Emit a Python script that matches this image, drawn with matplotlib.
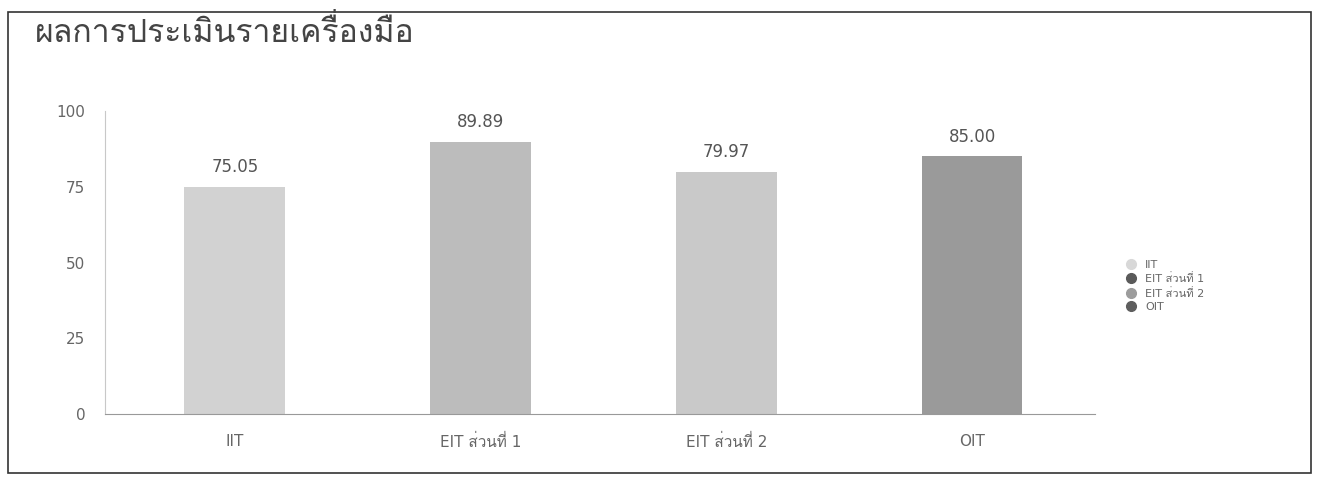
import matplotlib
matplotlib.use('Agg')
import matplotlib.pyplot as plt
from matplotlib import font_manager
from matplotlib.lines import Line2D
from matplotlib.patches import Rectangle

categories = ['IIT', 'EIT ส่วนที่ 1', 'EIT ส่วนที่ 2', 'OIT']
scores = [75.05, 89.89, 79.97, 85.00]
bar_colors = ['#d2d2d2', '#bcbcbc', '#c9c9c9', '#9a9a9a']
legend_colors = ['#d8d8d8', '#5a5a5a', '#9c9c9c', '#5e5e5e']
yticks = [0, 25, 50, 75, 100]
title = 'ผลการประเมินรายเครื่องมือ'

# find something that can draw Thai, DejaVu first for the latin bits
thai_fonts = []
try:
    from fontTools.ttLib import TTFont
    for f in font_manager.fontManager.ttflist:
        try:
            tt = TTFont(f.fname, fontNumber=0, lazy=True)
            if 0x0E2A in tt.getBestCmap() and f.name not in thai_fonts:
                thai_fonts.append(f.name)
        except Exception:
            pass
except Exception:
    pass
plt.rcParams['font.family'] = ['DejaVu Sans'] + thai_fonts

fig = plt.figure(figsize=(13.24, 4.93), dpi=100)
ax = fig.add_axes([0.079, 0.16, 0.748, 0.615])

x = range(len(categories))
ax.bar(x, scores, width=0.41, color=bar_colors)
for xi, v in zip(x, scores):
    ax.text(xi, v + 3.5, f'{v:.2f}', ha='center', va='bottom', fontsize=12, color='#555555')

ax.set_xlim(-0.53, 3.5)
ax.set_ylim(0, 100)
ax.set_yticks(yticks)
ax.set_xticks(list(x))
ax.set_xticklabels(categories)
ax.tick_params(axis='both', length=0, labelsize=11, colors='#666666')
ax.tick_params(axis='y', pad=14)
ax.tick_params(axis='x', pad=14)
for s in ['top', 'right']:
    ax.spines[s].set_visible(False)
ax.spines['left'].set_color('#c8c8c8')
ax.spines['bottom'].set_color('#999999')

handles = [Line2D([], [], marker='o', linestyle='', markersize=7, color=c) for c in legend_colors]
fig.legend(handles, categories, loc='center left', bbox_to_anchor=(0.838, 0.42),
           frameon=False, fontsize=8, labelcolor='#666666', handletextpad=0.3, labelspacing=0.3)

fig.text(0.026, 0.935, title, fontsize=23, color='#444444', va='center')
fig.patches.append(Rectangle((0.006, 0.04), 0.984, 0.935, transform=fig.transFigure,
                             fill=False, edgecolor='#333333', linewidth=1.2))

fig.savefig('out.png', dpi=100)
